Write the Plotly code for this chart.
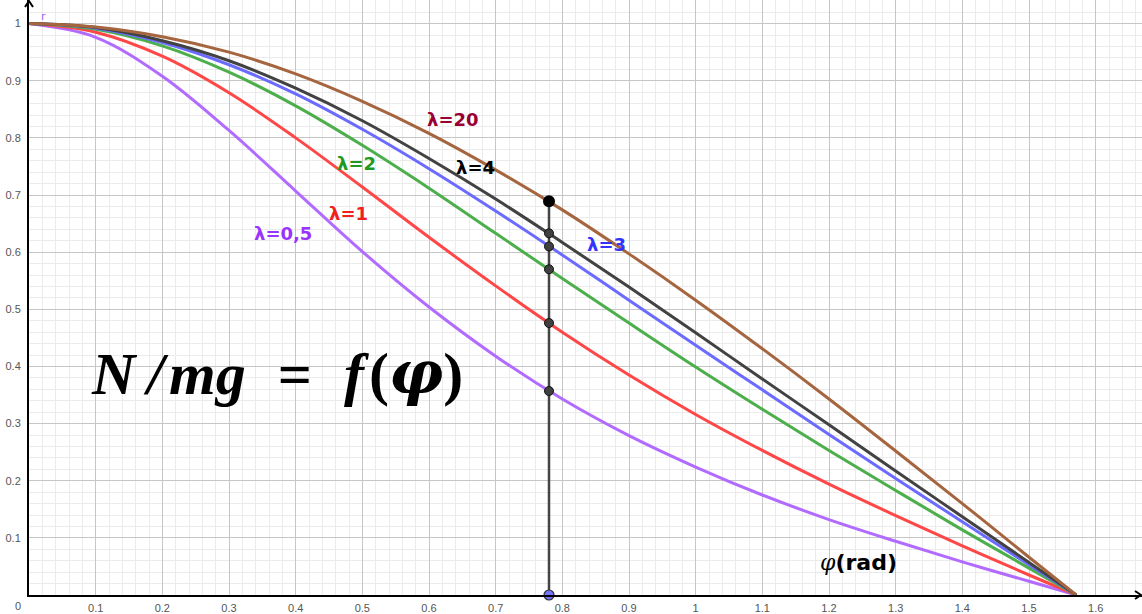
import plotly.graph_objects as go

# Angle samples (rad) and normal-force ratio N/mg for each lambda
phi = [0, 0.1, 0.2, 0.3, 0.4, 0.5, 0.6, 0.7, 0.8, 0.9, 1.0,
       1.1, 1.2, 1.3, 1.4, 1.5, 1.5708]

n_lam_05 = [1, 0.976, 0.908, 0.813, 0.707, 0.601, 0.504, 0.418, 0.343,
            0.279, 0.224, 0.175, 0.132, 0.094, 0.058, 0.024, 0]
n_lam_1 = [1, 0.985, 0.943, 0.879, 0.800, 0.714, 0.626, 0.541, 0.460,
           0.385, 0.316, 0.253, 0.194, 0.139, 0.086, 0.035, 0]
n_lam_2 = [1, 0.990, 0.961, 0.915, 0.856, 0.787, 0.712, 0.633, 0.554,
           0.476, 0.399, 0.325, 0.253, 0.183, 0.114, 0.047, 0]
n_lam_3 = [1, 0.992, 0.967, 0.928, 0.877, 0.815, 0.746, 0.672, 0.595,
           0.516, 0.437, 0.359, 0.281, 0.204, 0.128, 0.053, 0]
n_lam_4 = [1, 0.993, 0.970, 0.935, 0.887, 0.830, 0.764, 0.693, 0.617,
           0.539, 0.459, 0.378, 0.298, 0.217, 0.137, 0.057, 0]
n_lam_20 = [1, 0.994, 0.977, 0.950, 0.912, 0.864, 0.808, 0.744, 0.674,
            0.597, 0.516, 0.431, 0.343, 0.252, 0.160, 0.066, 0]

# Slider position and the curve values read on it
phi_cut = 0.78
cut_values = [0.689, 0.633, 0.610, 0.570, 0.476, 0.357]

x_ticks = [0.1, 0.2, 0.3, 0.4, 0.5, 0.6, 0.7, 0.8, 0.9, 1.0,
           1.1, 1.2, 1.3, 1.4, 1.5, 1.6]
x_tick_text = ["0.1", "0.2", "0.3", "0.4", "0.5", "0.6", "0.7", "0.8",
               "0.9", "1", "1.1", "1.2", "1.3", "1.4", "1.5", "1.6"]
y_ticks = [0.1, 0.2, 0.3, 0.4, 0.5, 0.6, 0.7, 0.8, 0.9, 1.0]
y_tick_text = ["0.1", "0.2", "0.3", "0.4", "0.5", "0.6", "0.7", "0.8",
               "0.9", "1"]

# Fine grid every 0.02
x_minor = [round(i * 0.02, 2) for i in range(1, 84)]
y_minor = [round(i * 0.02, 2) for i in range(1, 53)]

curves = [
    (n_lam_05, "#b26bff", "λ=0,5", "#9933ff", 0.381, 0.632),
    (n_lam_1, "#ff4747", "λ=1", "#f02020", 0.4785, 0.668),
    (n_lam_2, "#4caf4c", "λ=2", "#1f9a1f", 0.4905, 0.756),
    (n_lam_3, "#6b6bff", "λ=3", "#3333ff", 0.8655, 0.614),
    (n_lam_4, "#424242", "λ=4", "#000000", 0.669, 0.749),
    (n_lam_20, "#a5653f", "λ=20", "#990033", 0.636, 0.833),
]

fig = go.Figure()

# Vertical slider segment first so the curves run over it
fig.add_trace(go.Scatter(
    x=[phi_cut, phi_cut], y=[0, max(cut_values)], mode="lines",
    line=dict(color="#444444", width=2.5), hoverinfo="skip",
))

for values, color, _, _, _, _ in curves:
    fig.add_trace(go.Scatter(
        x=phi, y=values, mode="lines",
        line=dict(color=color, width=3, shape="spline"),
        hoverinfo="skip",
    ))

# Intersection points on the slider
fig.add_trace(go.Scatter(
    x=[phi_cut] * (len(cut_values) - 1), y=cut_values[1:], mode="markers",
    marker=dict(size=9, color="#404040", line=dict(color="#111111", width=1)),
    hoverinfo="skip",
))
fig.add_trace(go.Scatter(
    x=[phi_cut], y=[cut_values[0]], mode="markers",
    marker=dict(size=12, color="#000000"), hoverinfo="skip",
))
fig.add_trace(go.Scatter(
    x=[phi_cut], y=[0], mode="markers",
    marker=dict(size=10, color="#7373ff", line=dict(color="#333333", width=1.2)),
    hoverinfo="skip", cliponaxis=False,
))

annotations = []
for _, _, label, lcolor, lx, ly in curves:
    annotations.append(dict(
        x=lx, y=ly, text="<b>%s</b>" % label, showarrow=False,
        font=dict(family="DejaVu Sans", size=18, color=lcolor),
    ))

formula = (
    "<b><i>N</i></b>&#8201;<b><i>/</i></b>&#8202;<b><i>mg</i></b>"
    "&#8196;&#8201;<b>=</b>&#8196;&#8201;<b><i>f</i></b>&#8202;<b>(</b>"
    "<span style=\"font-family:'DejaVu Serif'\"><b><i>φ</i></b></span>"
    "<b>)</b>"
)

annotations += [
    dict(x=0.3727, y=0.388, text=formula, showarrow=False,
         font=dict(family="Liberation Serif", size=60, color="#000000")),
    dict(x=1.2435, y=0.0564,
         text="<span style=\"font-family:'DejaVu Serif'\"><i>φ</i></span>"
              "<b>(rad)</b>",
         showarrow=False,
         font=dict(family="DejaVu Sans", size=22, color="#000000")),
    dict(x=0.021, y=1.0125, text="r", showarrow=False,
         font=dict(family="DejaVu Sans", size=11, color="#9966ff")),
    dict(x=0, y=0, xref="paper", yref="paper", xshift=-11, yshift=-11,
         xanchor="center", yanchor="middle",
         text="0", showarrow=False,
         font=dict(family="Liberation Sans", size=11, color="#555555")),
]

# Axis arrowheads (open chevrons at the axis ends)
shapes = [
    dict(type="path", xref="paper", yref="paper", xsizemode="pixel",
         ysizemode="pixel", xanchor=0, yanchor=1,
         path="M -4,-7 L 0,-1 L 4,-7",
         line=dict(color="#000000", width=2)),
    dict(type="path", xref="paper", yref="paper", xsizemode="pixel",
         ysizemode="pixel", xanchor=1, yanchor=0,
         path="M -7,-4 L -1,0 L -7,4",
         line=dict(color="#000000", width=2)),
]

fig.update_layout(
    width=1142, height=614,
    margin=dict(l=29, r=0, t=0, b=17),
    paper_bgcolor="#ffffff", plot_bgcolor="#ffffff",
    showlegend=False,
    annotations=annotations,
    shapes=shapes,
    xaxis=dict(
        range=[0, 1.6695], tickmode="array",
        tickvals=x_ticks, ticktext=x_tick_text,
        showgrid=True, gridcolor="#c6c6c6", gridwidth=1,
        minor=dict(tickmode="array", tickvals=x_minor, showgrid=True,
                   gridcolor="#ebebeb", gridwidth=1, ticks=""),
        zeroline=False, showline=True, linecolor="#000000", linewidth=2,
        ticks="", ticklabelstandoff=2,
        tickfont=dict(family="Liberation Sans", size=11, color="#555555"),
    ),
    yaxis=dict(
        range=[0, 1.0413], tickmode="array",
        tickvals=y_ticks, ticktext=y_tick_text,
        showgrid=True, gridcolor="#c6c6c6", gridwidth=1,
        minor=dict(tickmode="array", tickvals=y_minor, showgrid=True,
                   gridcolor="#ebebeb", gridwidth=1, ticks=""),
        zeroline=False, showline=True, linecolor="#000000", linewidth=2,
        ticks="", ticklabelstandoff=4,
        tickfont=dict(family="Liberation Sans", size=11, color="#555555"),
    ),
)

fig.write_html("out.html")
